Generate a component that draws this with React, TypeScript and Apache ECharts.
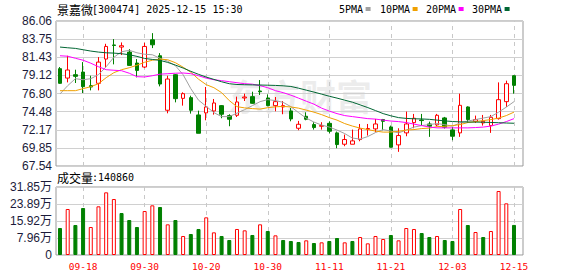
import React, { useEffect, useRef } from 'react';
import * as echarts from 'echarts';

const dates = [
  '09-15','09-16','09-17','09-18','09-19','09-22','09-23','09-24','09-25','09-26','09-29','09-30',
  '10-09','10-10','10-13','10-14','10-15','10-16','10-17','10-20','10-21','10-22','10-23','10-24',
  '10-27','10-28','10-29','10-30','10-31','11-03','11-04','11-05','11-06','11-07','11-10','11-11',
  '11-12','11-13','11-14','11-17','11-18','11-19','11-20','11-21','11-24','11-25','11-26','11-27',
  '11-28','12-01','12-02','12-03','12-04','12-05','12-08','12-09','12-10','12-11','12-12','12-15',
];
const open = [
  79.97,78.77,79.20,79.54,77.80,78.10,81.20,83.00,82.73,82.09,80.69,80.18,
  83.66,81.62,74.66,79.20,76.18,76.27,74.06,74.32,74.57,75.25,73.98,74.02,
  76.23,76.40,77.12,76.23,75.25,75.08,74.57,72.36,73.89,72.83,72.62,72.99,
  71.77,70.32,70.32,70.92,72.23,72.28,73.47,72.53,70.24,71.77,73.08,73.42,
  72.91,72.79,73.68,72.15,71.77,75.08,73.25,73.04,72.70,73.59,75.76,79.07,
];
const close = [
  78.10,79.80,78.99,77.67,77.63,80.81,82.81,82.94,82.90,80.39,79.75,82.81,
  83.02,78.01,78.65,76.14,76.78,74.66,71.72,75.08,75.59,74.15,73.51,75.72,
  76.35,75.55,77.03,75.25,75.76,75.25,73.55,72.87,73.51,72.45,72.70,71.98,
  70.28,70.92,70.75,72.28,72.32,72.91,73.25,69.94,71.43,72.91,73.64,73.34,
  72.62,74.02,72.49,71.34,75.29,73.47,73.47,73.25,73.76,76.01,78.05,77.84,
];
const low = [
  78.05,78.22,78.14,76.86,77.20,77.20,80.14,80.52,81.71,80.35,78.86,80.05,
  82.60,77.71,74.27,75.67,75.25,74.23,71.72,73.38,74.10,73.64,72.62,73.80,
  75.84,75.50,76.61,75.16,74.53,74.15,73.25,72.11,73.38,72.19,72.19,71.72,
  69.81,70.07,70.32,70.70,71.43,71.85,72.11,69.90,69.35,71.34,72.36,72.70,
  71.26,72.62,72.32,70.83,71.26,73.04,73.04,72.70,71.77,73.47,75.08,76.78,
];
const high = [
  80.18,81.62,79.84,80.81,79.07,81.45,83.15,83.75,83.32,82.47,81.20,83.28,
  84.51,81.96,79.07,79.29,76.95,76.52,74.61,77.63,76.10,75.33,74.15,76.40,
  76.78,77.03,78.52,76.69,76.35,75.84,74.95,73.30,74.40,73.13,73.13,73.25,
  71.94,71.55,72.19,72.91,72.91,73.55,73.55,72.70,72.36,74.49,74.19,74.19,
  73.21,74.19,73.81,72.53,76.78,75.16,73.98,74.06,74.06,78.22,78.44,79.12,
];
const volume = [
  126400,215400,140500,220100,131100,227900,293500,262200,196700,163900,131100,206000,
  232600,224800,143600,163900,89000,98300,121800,176400,106100,89000,70200,121800,
  115500,93700,143600,112400,92100,70200,65600,60900,68700,56200,59300,65600,
  79600,59300,65600,84300,54600,89000,74900,93700,68700,126400,121800,103000,
  84300,89000,70200,65600,215400,140500,107700,84300,112400,299700,242000,140860,
];
const volUp = [
  0,1,0,0,1,1,1,1,0,0,0,1,
  1,0,1,0,1,0,0,1,1,0,0,1,
  1,0,1,0,1,0,0,0,1,0,1,0,
  0,1,0,1,1,1,1,0,1,1,1,0,
  0,1,0,0,1,0,1,0,1,1,1,0,
];
const ma5 = [
  76.74,77.80,78.69,78.56,78.69,79.20,80.22,81.43,82.13,82.32,82.00,81.81,
  81.75,81.30,80.92,80.35,79.20,77.42,75.95,75.16,74.36,73.85,73.85,74.29,
  74.74,75.25,75.76,76.02,75.89,75.67,75.12,74.36,73.66,73.15,72.77,72.51,
  72.13,71.68,71.11,70.98,71.30,71.81,72.19,72.00,71.77,72.13,72.51,72.70,
  72.83,72.96,72.83,72.61,73.05,73.28,73.47,73.66,73.85,74.42,75.06,75.76,
];
const ma10 = [
  77.16,77.16,77.16,77.42,77.67,78.05,78.82,79.46,79.84,80.09,80.41,80.79,
  81.05,81.20,81.11,80.73,80.16,79.52,78.63,77.93,77.54,76.91,75.89,75.12,
  74.96,74.87,74.81,74.99,75.10,75.15,75.08,74.93,74.68,74.42,74.10,73.72,
  73.40,72.96,72.64,72.38,72.19,72.00,71.87,71.87,71.97,72.13,72.19,72.32,
  72.38,72.57,72.61,72.70,72.83,73.09,73.21,73.34,73.47,73.66,73.98,74.42,
];
const ma20 = [
  81.62,81.56,81.30,81.05,80.67,80.22,79.84,79.77,79.71,79.39,78.95,78.91,
  79.07,79.27,79.33,79.39,79.42,79.33,79.07,78.76,78.56,78.44,78.31,78.18,
  78.05,77.99,77.80,77.54,77.16,76.91,76.59,76.21,75.82,75.44,74.93,74.55,
  74.23,73.98,73.85,73.72,73.59,73.53,73.40,73.28,73.21,73.09,72.89,72.70,
  72.51,72.41,72.41,72.41,72.41,72.41,72.45,72.51,72.64,72.89,73.21,73.59,
];
const ma30 = [
  82.73,82.64,82.56,82.39,82.22,82.09,82.00,81.96,81.88,81.75,81.54,81.28,
  81.15,81.03,80.77,80.43,80.05,79.63,79.25,78.90,78.60,78.30,78.05,77.95,
  77.92,77.90,77.88,77.86,77.83,77.78,77.70,77.48,77.23,76.98,76.72,76.45,
  76.21,75.95,75.69,75.35,75.00,74.62,74.23,73.95,73.72,73.62,73.57,73.55,
  73.50,73.40,73.30,73.22,73.18,73.15,73.15,73.13,73.10,73.07,73.03,73.00,
];
const priceTicks = ['67.54','69.85','72.17','74.48','76.80','79.12','81.43','83.75','86.06'];
const volTicks = ['0','7.96万','15.92万','23.89万','31.85万'];
const labelIdx = [3, 11, 19, 27, 35, 43, 51, 59];
const maNames = ['5PMA', '10PMA', '20PMA', '30PMA'];
const titleName = '景嘉微';
const titleRest = '[300474] 2025-12-15 15:30';
const volLabelName = '成交量';
const volLabelValue = ':140860';
const watermark = '东方财富';

const PRICE_MIN = 67.54;
const PRICE_MAX = 86.06;
const VOL_MAX = 318500;

const MA_COLORS = ['#a0a0a0', '#f0a000', '#ff00ff', '#006633'];
const RED = '#ff0000';
const GREEN = '#008000';
const MONO = 'DejaVu Sans Mono';
const CJK = 'Noto Sans CJK SC';
const AXIS_TEXT = '#1b1b3a';

export default function App() {
  const ref = useRef<HTMLDivElement>(null);
  useEffect(() => {
    document.body.style.margin = '0';
    if (!ref.current) return;
    const chart = echarts.init(ref.current, null, { renderer: 'svg' });
    const pStep = (PRICE_MAX - PRICE_MIN) / 8;
    const vStep = VOL_MAX / 4;
    const xMin = -0.52;
    const xMax = 60.17;
    const gridLine = { show: true, lineStyle: { color: '#d0d0d0', width: 1 } };
    const vMark = {
      silent: true,
      z: 1,
      symbol: ['none', 'none'],
      label: { show: false },
      lineStyle: { color: '#c8c8c8', type: [4, 4], width: 1 },
      emphasis: { disabled: true },
      data: labelIdx.map((i) => ({ xAxis: i })),
    };
    const maList = [ma5, ma10, ma20, ma30];

    const legendGraphics: any[] = [];
    const legendX = [339, 380, 426, 472];
    maNames.forEach((n, k) => {
      legendGraphics.push({
        type: 'text', x: legendX[k], y: 9,
        style: { text: n, fill: '#000', fontSize: 10, fontFamily: MONO, verticalAlign: 'middle' },
      });
      legendGraphics.push({
        type: 'rect', shape: { x: legendX[k] + n.length * 6.02 + 2.5, y: 7, width: 5, height: 4 },
        style: { fill: MA_COLORS[k] },
      });
    });

    chart.setOption({
      animation: false,
      backgroundColor: '#ffffff',
      grid: [
        { left: 56, right: 55, top: 21, height: 145, show: true, borderColor: '#999', borderWidth: 1, backgroundColor: 'transparent' },
        { left: 56, right: 55, top: 187, height: 68, show: true, borderColor: '#999', borderWidth: 1, backgroundColor: 'transparent' },
      ],
      xAxis: [
        {
          type: 'value', gridIndex: 0, min: xMin, max: xMax,
          axisLabel: { show: false }, axisTick: { show: false }, axisLine: { show: false }, splitLine: { show: false },
        },
        {
          type: 'value', gridIndex: 1, min: xMin, max: xMax,
          axisLabel: {
            show: true, customValues: labelIdx, formatter: (v: number) => dates[Math.round(v)] ?? '',
            color: RED, fontSize: 9.5, fontFamily: MONO, margin: 6,
          },
          axisTick: { show: false, customValues: labelIdx }, axisLine: { show: false }, splitLine: { show: false },
        },
      ],
      yAxis: [
        {
          type: 'value', gridIndex: 0, min: PRICE_MIN, max: PRICE_MAX, interval: pStep,
          axisLabel: {
            formatter: (v: number) => priceTicks[Math.round((v - PRICE_MIN) / pStep)] ?? '',
            color: AXIS_TEXT, fontSize: 12, fontFamily: 'Liberation Sans', margin: 4,
          },
          axisLine: { show: false }, axisTick: { show: false }, splitLine: gridLine,
        },
        {
          type: 'value', gridIndex: 1, min: 0, max: VOL_MAX, interval: vStep,
          axisLabel: {
            formatter: (v: number) => volTicks[Math.round(v / vStep)] ?? '',
            color: AXIS_TEXT, fontSize: 12, fontFamily: 'Liberation Sans, ' + CJK, margin: 4,
          },
          axisLine: { show: false }, axisTick: { show: false }, splitLine: gridLine,
        },
      ],
      graphic: [
        {
          type: 'text', x: 228, y: 95, z: -10, silent: true,
          style: { text: watermark, fill: 'rgba(190,190,190,0.28)', fontSize: 36, fontWeight: 'bold', fontFamily: CJK, verticalAlign: 'middle' },
        },
        {
          type: 'text', x: 57, y: 9,
          style: { text: titleName, fill: '#000', fontSize: 12, fontFamily: CJK, verticalAlign: 'middle' },
        },
        {
          type: 'text', x: 92, y: 9,
          style: { text: titleRest, fill: '#000', fontSize: 10, fontFamily: MONO, verticalAlign: 'middle' },
        },
        {
          type: 'text', x: 57, y: 177,
          style: { text: volLabelName, fill: '#000', fontSize: 12, fontFamily: CJK, verticalAlign: 'middle' },
        },
        {
          type: 'text', x: 92, y: 177,
          style: { text: volLabelValue, fill: '#000', fontSize: 10, fontFamily: MONO, verticalAlign: 'middle' },
        },
        ...legendGraphics,
      ],
      series: [
        {
          type: 'candlestick', xAxisIndex: 0, yAxisIndex: 0, barWidth: 4, z: 3,
          data: dates.map((_, i) => [i, open[i], close[i], low[i], high[i]]),
          itemStyle: { color: '#ffffff', color0: GREEN, borderColor: RED, borderColor0: GREEN, borderWidth: 1 },
          markLine: vMark,
        },
        ...maList.map((m, k) => ({
          type: 'line', xAxisIndex: 0, yAxisIndex: 0, name: maNames[k], z: 4,
          data: m.map((v, i) => [i, v]), symbol: 'none', silent: true,
          lineStyle: { color: MA_COLORS[k], width: 1 },
        })),
        {
          type: 'bar', xAxisIndex: 1, yAxisIndex: 1, barWidth: 4, z: 3,
          markLine: vMark,
          data: volume.map((v, i) => ({
            value: [i, v],
            itemStyle: volUp[i]
              ? { color: '#ffffff', borderColor: RED, borderWidth: 1 }
              : { color: GREEN, borderColor: GREEN, borderWidth: 1 },
          })),
        },
      ],
    });
    return () => chart.dispose();
  }, []);
  return <div ref={ref} style={{ width: 578, height: 276 }} />;
}
